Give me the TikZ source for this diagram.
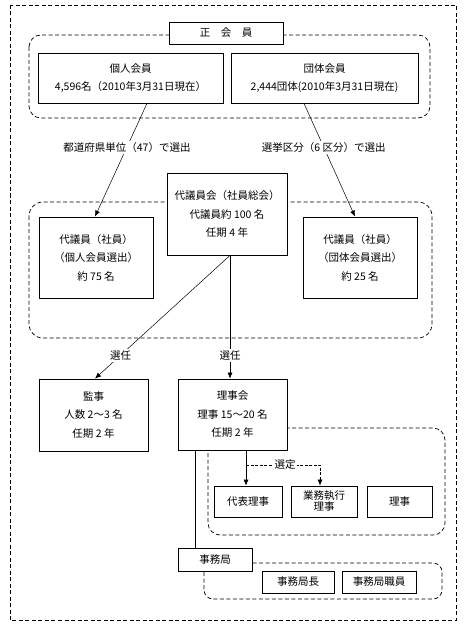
\documentclass[tikz,border=0pt]{standalone}
\usepackage{fontspec}
\setmainfont{Noto Sans CJK JP}
\usetikzlibrary{arrows.meta}
\begin{document}
\begin{tikzpicture}[x=1pt,y=-1pt,
  every node/.style={font=\fontsize{10.5}{18.5}\selectfont},
  box/.style={draw=black,line width=0.8pt,fill=white,align=center,inner sep=0pt,
    minimum width=#1},
  frame/.style={draw=black,line width=0.7pt,dash pattern=on 4pt off 2.5pt},
  conn/.style={draw=black,line width=0.5pt},
  arr/.style={conn,-{Latex[length=6pt,width=5pt]}},
  lbl/.style={fill=white,inner sep=1.5pt}]
\useasboundingbox (0,0) rectangle (466,631);
% frames
\draw[frame] (10,5) rectangle (456,620);
\draw[frame,rounded corners=12pt] (29,35) rectangle (430,118);
\draw[frame,rounded corners=14pt] (29,202) rectangle (432,338);
\draw[frame,rounded corners=12pt] (208,428) rectangle (445,535);
\draw[frame,rounded corners=9pt] (204,563) rectangle (442,599);
% boxes
\node[box=114pt,minimum height=22pt] (title) at (226,33) {正　会　員};
\node[box=185pt,minimum height=50pt] (kojin) at (130.5,78) {個人会員\\4,596名（2010年3月31日現在）};
\node[box=187pt,minimum height=50pt] (dantai) at (324.5,78) {団体会員\\2,444団体(2010年3月31日現在)};
\node[box=120pt,minimum height=82pt] (kai) at (227,214) {代議員会（社員総会）\\代議員約 100 名\\任期 4 年};
\node[box=114pt,minimum height=81pt] (ldai) at (96,257.5) {代議員（社員）\\（個人会員選出）\\約 75 名};
\node[box=114pt,minimum height=81pt] (rdai) at (360,257.5) {代議員（社員）\\（団体会員選出）\\約 25 名};
\node[box=109pt,minimum height=72pt] (kanji) at (93.5,415) {監事\\人数 2〜3 名\\任期 2 年};
\node[box=109pt,minimum height=71pt] (riji) at (232.5,414.5) {理事会\\理事 15〜20 名\\任期 2 年};
\node[box=68pt,minimum height=31pt] (daihyo) at (248,501.5) {代表理事};
\node[box=66pt,minimum height=31pt,font=\fontsize{10.5}{11}\selectfont] (gyomu) at (324,501.5) {業務執行\\理事};
\node[box=65pt,minimum height=31pt] (rj) at (399.5,501.5) {理事};
\node[box=74pt,minimum height=23pt] (jimu) at (215,559.5) {事務局};
\node[box=72pt,minimum height=22pt] (chou) at (298,582) {事務局長};
\node[box=74pt,minimum height=22pt] (shoku) at (379,582) {事務局職員};
% connectors
\draw[arr] (kojin.south -| 147,0) -- node[lbl,pos=0.386]{都道府県単位（47）で選出} (ldai.north -| 95,0);
\draw[arr] (dantai.south -| 304,0) -- node[lbl,pos=0.386]{選挙区分（6 区分）で選出} (rdai.north -| 355,0);
\draw[arr] (kai.south -| 230,0) -- node[lbl,pos=0.81]{選任} (kanji.north -| 95,0);
\draw[arr] (kai.south -| 230,0) -- node[lbl,pos=0.81]{選任} (riji.north -| 230,0);
\draw[conn] (riji.south -| 195,0) -- (jimu.north -| 195,0);
\draw[arr] (riji.south -| 246,0) -- (daihyo.north -| 246,0);
\coordinate (sel) at (246,465);
\draw[arr,dash pattern=on 3pt off 1.5pt] (sel) -- node[lbl,pos=0.53]{選定} (sel -| 320,0) -- (gyomu.north -| 320,0);
\end{tikzpicture}
\end{document}
